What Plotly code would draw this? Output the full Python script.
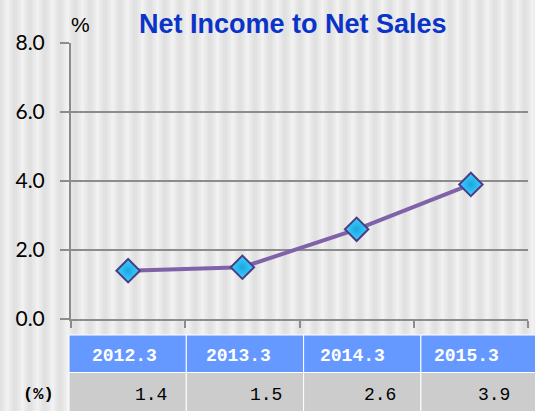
import plotly.graph_objects as go

categories = ["2012.3", "2013.3", "2014.3", "2015.3"]
values = [1.4, 1.5, 2.6, 3.9]
value_labels = ["1.4", "1.5", "2.6", "3.9"]
y_ticks = [0, 2, 4, 6, 8]
title_text = "Net Income to Net Sales"
unit_text = "%"
row_label = "(%)"

W, H = 535, 411
ML, MR, MT, MB = 71, 7, 43, 92
PW = W - ML - MR
PH = H - MT - MB


def px_x(p):
    return (p - ML) / PW


def px_y(p):
    return (H - MB - p) / PH


fig = go.Figure()
fig.add_trace(go.Scatter(
    x=categories, y=values, mode="lines+markers",
    line=dict(color="#7f62a8", width=4),
    marker=dict(symbol="diamond", size=18, color="#40d2ff",
                gradient=dict(type="radial", color="#1aa6e0"),
                line=dict(color="#4a3e86", width=2)),
    showlegend=False, hoverinfo="x+y",
))

shapes = []
# background stripes (soft)
p = -4
while p < W + 10:
    shapes.append(dict(type="rect", xref="paper", yref="paper", layer="below",
                       x0=px_x(p), x1=px_x(p + 8), y0=px_y(H), y1=px_y(0),
                       fillcolor="rgba(0,0,0,0.02)", line=dict(width=0)))
    shapes.append(dict(type="rect", xref="paper", yref="paper", layer="below",
                       x0=px_x(p + 2), x1=px_x(p + 6), y0=px_y(H), y1=px_y(0),
                       fillcolor="rgba(0,0,0,0.02)", line=dict(width=0)))
    shapes.append(dict(type="rect", xref="paper", yref="paper", layer="below",
                       x0=px_x(p + 10), x1=px_x(p + 13), y0=px_y(H), y1=px_y(0),
                       fillcolor="rgba(255,255,255,0.3)", line=dict(width=0)))
    p += 15

# table
n = len(categories)
col_left = px_x(69)
col_w = 117.3 / PW
hdr_top, hdr_bot, row_bot = px_y(335), px_y(372.5), px_y(H + 2)
annotations = []
for i, cat in enumerate(categories):
    x0 = col_left + i * col_w
    x1 = x0 + col_w
    shapes.append(dict(type="rect", xref="paper", yref="paper", layer="above",
                       x0=x0, x1=x1, y0=hdr_bot, y1=hdr_top,
                       fillcolor="#6699ff", line=dict(color="white", width=1)))
    shapes.append(dict(type="rect", xref="paper", yref="paper", layer="above",
                       x0=x0, x1=x1, y0=row_bot, y1=hdr_bot,
                       fillcolor="#cccccc", line=dict(color="white", width=1)))
    annotations.append(dict(xref="paper", yref="paper", x=(i + 0.5) / n, xshift=-4,
                            xanchor="center", yanchor="middle",
                            y=px_y(356), text=f"<b>{cat}</b>", showarrow=False,
                            font=dict(family="Liberation Mono", size=18, color="white")))
    annotations.append(dict(xref="paper", yref="paper", x=(i + 1) / n, xshift=-16,
                            xanchor="right", yanchor="middle", y=px_y(395),
                            text=value_labels[i], showarrow=False,
                            font=dict(family="Liberation Mono", size=18, color="black")))

annotations.append(dict(xref="paper", yref="paper", x=px_x(38), y=px_y(395),
                        xanchor="center", yanchor="middle",
                        text=f"<b>{row_label}</b>", showarrow=False,
                        font=dict(family="Liberation Mono", size=17, color="black")))
annotations.append(dict(xref="paper", yref="paper", x=px_x(293), y=px_y(24),
                        xanchor="center", yanchor="middle",
                        text=f"<b>{title_text}</b>", showarrow=False,
                        font=dict(family="Liberation Sans", size=27, color="#0a34c8")))
annotations.append(dict(xref="paper", yref="paper", x=px_x(80), y=px_y(25),
                        xanchor="center", yanchor="middle",
                        text=unit_text, showarrow=False,
                        font=dict(family="Liberation Sans", size=21, color="black")))

fig.update_layout(
    width=W, height=H,
    margin=dict(l=ML, r=MR, t=MT, b=MB, pad=0),
    paper_bgcolor="#ebebeb",
    plot_bgcolor="rgba(0,0,0,0)",
    shapes=shapes,
    annotations=annotations,
    xaxis=dict(type="category", tickson="boundaries", ticks="outside", ticklen=7,
               tickwidth=2, tickcolor="#8c8c8c", showticklabels=False,
               showgrid=False, showline=True, linecolor="#8c8c8c", linewidth=2,
               range=[-0.5, 3.5], zeroline=False),
    yaxis=dict(range=[0, 8], tickvals=y_ticks, tickformat=".1f", ticks="outside",
               ticklen=9, tickwidth=2, tickcolor="#8c8c8c", showgrid=True,
               gridcolor="#8c8c8c", gridwidth=2, showline=True, linecolor="#8c8c8c",
               linewidth=2, zeroline=False, ticklabelstandoff=11,
               tickfont=dict(family="Lato", size=21, color="black")),
)

fig.write_html("out.html", config={"displayModeBar": False},
               post_script="document.body.style.margin='0';document.body.style.background='#ebebeb';")
